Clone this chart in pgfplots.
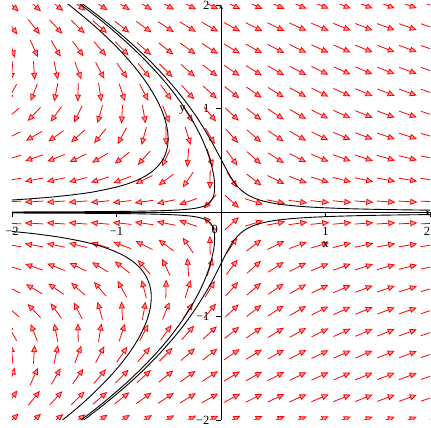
\documentclass[border=0pt]{standalone}
\usepackage{fontspec}
\setmainfont{Liberation Serif}
\usepackage{pgfplots}
\usepackage{pgfplotstable}
\pgfplotsset{compat=1.18}
\usetikzlibrary{arrows.meta}

% direction field of x' = x + y^2, y' = -y on a 20 x 20 grid
% columns: grid point (x,y) and the raw direction (u,v)
\pgfplotstableread{
x y u v
-2.000 2.000 2.000 -2.000
-1.789 2.000 2.211 -2.000
-1.579 2.000 2.421 -2.000
-1.368 2.000 2.632 -2.000
-1.158 2.000 2.842 -2.000
-0.947 2.000 3.053 -2.000
-0.737 2.000 3.263 -2.000
-0.526 2.000 3.474 -2.000
-0.316 2.000 3.684 -2.000
-0.105 2.000 3.895 -2.000
0.105 2.000 4.105 -2.000
0.316 2.000 4.316 -2.000
0.526 2.000 4.526 -2.000
0.737 2.000 4.737 -2.000
0.947 2.000 4.947 -2.000
1.158 2.000 5.158 -2.000
1.368 2.000 5.368 -2.000
1.579 2.000 5.579 -2.000
1.789 2.000 5.789 -2.000
2.000 2.000 6.000 -2.000
-2.000 1.789 1.201 -1.789
-1.789 1.789 1.412 -1.789
-1.579 1.789 1.622 -1.789
-1.368 1.789 1.833 -1.789
-1.158 1.789 2.043 -1.789
-0.947 1.789 2.254 -1.789
-0.737 1.789 2.464 -1.789
-0.526 1.789 2.675 -1.789
-0.316 1.789 2.885 -1.789
-0.105 1.789 3.096 -1.789
0.105 1.789 3.306 -1.789
0.316 1.789 3.517 -1.789
0.526 1.789 3.727 -1.789
0.737 1.789 3.938 -1.789
0.947 1.789 4.148 -1.789
1.158 1.789 4.359 -1.789
1.368 1.789 4.569 -1.789
1.579 1.789 4.780 -1.789
1.789 1.789 4.990 -1.789
2.000 1.789 5.201 -1.789
-2.000 1.579 0.493 -1.579
-1.789 1.579 0.704 -1.579
-1.579 1.579 0.914 -1.579
-1.368 1.579 1.125 -1.579
-1.158 1.579 1.335 -1.579
-0.947 1.579 1.546 -1.579
-0.737 1.579 1.756 -1.579
-0.526 1.579 1.967 -1.579
-0.316 1.579 2.177 -1.579
-0.105 1.579 2.388 -1.579
0.105 1.579 2.598 -1.579
0.316 1.579 2.809 -1.579
0.526 1.579 3.019 -1.579
0.737 1.579 3.230 -1.579
0.947 1.579 3.440 -1.579
1.158 1.579 3.651 -1.579
1.368 1.579 3.861 -1.579
1.579 1.579 4.072 -1.579
1.789 1.579 4.282 -1.579
2.000 1.579 4.493 -1.579
-2.000 1.368 -0.129 -1.368
-1.789 1.368 0.082 -1.368
-1.579 1.368 0.292 -1.368
-1.368 1.368 0.503 -1.368
-1.158 1.368 0.713 -1.368
-0.947 1.368 0.924 -1.368
-0.737 1.368 1.134 -1.368
-0.526 1.368 1.345 -1.368
-0.316 1.368 1.555 -1.368
-0.105 1.368 1.766 -1.368
0.105 1.368 1.976 -1.368
0.316 1.368 2.187 -1.368
0.526 1.368 2.397 -1.368
0.737 1.368 2.608 -1.368
0.947 1.368 2.818 -1.368
1.158 1.368 3.029 -1.368
1.368 1.368 3.239 -1.368
1.579 1.368 3.450 -1.368
1.789 1.368 3.660 -1.368
2.000 1.368 3.871 -1.368
-2.000 1.158 -0.659 -1.158
-1.789 1.158 -0.448 -1.158
-1.579 1.158 -0.238 -1.158
-1.368 1.158 -0.027 -1.158
-1.158 1.158 0.183 -1.158
-0.947 1.158 0.394 -1.158
-0.737 1.158 0.604 -1.158
-0.526 1.158 0.815 -1.158
-0.316 1.158 1.025 -1.158
-0.105 1.158 1.236 -1.158
0.105 1.158 1.446 -1.158
0.316 1.158 1.657 -1.158
0.526 1.158 1.867 -1.158
0.737 1.158 2.078 -1.158
0.947 1.158 2.288 -1.158
1.158 1.158 2.499 -1.158
1.368 1.158 2.709 -1.158
1.579 1.158 2.920 -1.158
1.789 1.158 3.130 -1.158
2.000 1.158 3.341 -1.158
-2.000 0.947 -1.103 -0.947
-1.789 0.947 -0.892 -0.947
-1.579 0.947 -0.682 -0.947
-1.368 0.947 -0.471 -0.947
-1.158 0.947 -0.261 -0.947
-0.947 0.947 -0.050 -0.947
-0.737 0.947 0.160 -0.947
-0.526 0.947 0.371 -0.947
-0.316 0.947 0.581 -0.947
-0.105 0.947 0.792 -0.947
0.105 0.947 1.002 -0.947
0.316 0.947 1.213 -0.947
0.526 0.947 1.423 -0.947
0.737 0.947 1.634 -0.947
0.947 0.947 1.844 -0.947
1.158 0.947 2.055 -0.947
1.368 0.947 2.265 -0.947
1.579 0.947 2.476 -0.947
1.789 0.947 2.686 -0.947
2.000 0.947 2.897 -0.947
-2.000 0.737 -1.457 -0.737
-1.789 0.737 -1.246 -0.737
-1.579 0.737 -1.036 -0.737
-1.368 0.737 -0.825 -0.737
-1.158 0.737 -0.615 -0.737
-0.947 0.737 -0.404 -0.737
-0.737 0.737 -0.194 -0.737
-0.526 0.737 0.017 -0.737
-0.316 0.737 0.227 -0.737
-0.105 0.737 0.438 -0.737
0.105 0.737 0.648 -0.737
0.316 0.737 0.859 -0.737
0.526 0.737 1.069 -0.737
0.737 0.737 1.280 -0.737
0.947 0.737 1.490 -0.737
1.158 0.737 1.701 -0.737
1.368 0.737 1.911 -0.737
1.579 0.737 2.122 -0.737
1.789 0.737 2.332 -0.737
2.000 0.737 2.543 -0.737
-2.000 0.526 -1.723 -0.526
-1.789 0.526 -1.512 -0.526
-1.579 0.526 -1.302 -0.526
-1.368 0.526 -1.091 -0.526
-1.158 0.526 -0.881 -0.526
-0.947 0.526 -0.670 -0.526
-0.737 0.526 -0.460 -0.526
-0.526 0.526 -0.249 -0.526
-0.316 0.526 -0.039 -0.526
-0.105 0.526 0.172 -0.526
0.105 0.526 0.382 -0.526
0.316 0.526 0.593 -0.526
0.526 0.526 0.803 -0.526
0.737 0.526 1.014 -0.526
0.947 0.526 1.224 -0.526
1.158 0.526 1.435 -0.526
1.368 0.526 1.645 -0.526
1.579 0.526 1.856 -0.526
1.789 0.526 2.066 -0.526
2.000 0.526 2.277 -0.526
-2.000 0.316 -1.900 -0.316
-1.789 0.316 -1.689 -0.316
-1.579 0.316 -1.479 -0.316
-1.368 0.316 -1.268 -0.316
-1.158 0.316 -1.058 -0.316
-0.947 0.316 -0.847 -0.316
-0.737 0.316 -0.637 -0.316
-0.526 0.316 -0.426 -0.316
-0.316 0.316 -0.216 -0.316
-0.105 0.316 -0.005 -0.316
0.105 0.316 0.205 -0.316
0.316 0.316 0.416 -0.316
0.526 0.316 0.626 -0.316
0.737 0.316 0.837 -0.316
0.947 0.316 1.047 -0.316
1.158 0.316 1.258 -0.316
1.368 0.316 1.468 -0.316
1.579 0.316 1.679 -0.316
1.789 0.316 1.889 -0.316
2.000 0.316 2.100 -0.316
-2.000 0.105 -1.989 -0.105
-1.789 0.105 -1.778 -0.105
-1.579 0.105 -1.568 -0.105
-1.368 0.105 -1.357 -0.105
-1.158 0.105 -1.147 -0.105
-0.947 0.105 -0.936 -0.105
-0.737 0.105 -0.726 -0.105
-0.526 0.105 -0.515 -0.105
-0.316 0.105 -0.305 -0.105
-0.105 0.105 -0.094 -0.105
0.105 0.105 0.116 -0.105
0.316 0.105 0.327 -0.105
0.526 0.105 0.537 -0.105
0.737 0.105 0.748 -0.105
0.947 0.105 0.958 -0.105
1.158 0.105 1.169 -0.105
1.368 0.105 1.379 -0.105
1.579 0.105 1.590 -0.105
1.789 0.105 1.800 -0.105
2.000 0.105 2.011 -0.105
-2.000 -0.105 -1.989 0.105
-1.789 -0.105 -1.778 0.105
-1.579 -0.105 -1.568 0.105
-1.368 -0.105 -1.357 0.105
-1.158 -0.105 -1.147 0.105
-0.947 -0.105 -0.936 0.105
-0.737 -0.105 -0.726 0.105
-0.526 -0.105 -0.515 0.105
-0.316 -0.105 -0.305 0.105
-0.105 -0.105 -0.094 0.105
0.105 -0.105 0.116 0.105
0.316 -0.105 0.327 0.105
0.526 -0.105 0.537 0.105
0.737 -0.105 0.748 0.105
0.947 -0.105 0.958 0.105
1.158 -0.105 1.169 0.105
1.368 -0.105 1.379 0.105
1.579 -0.105 1.590 0.105
1.789 -0.105 1.800 0.105
2.000 -0.105 2.011 0.105
-2.000 -0.316 -1.900 0.316
-1.789 -0.316 -1.689 0.316
-1.579 -0.316 -1.479 0.316
-1.368 -0.316 -1.268 0.316
-1.158 -0.316 -1.058 0.316
-0.947 -0.316 -0.847 0.316
-0.737 -0.316 -0.637 0.316
-0.526 -0.316 -0.426 0.316
-0.316 -0.316 -0.216 0.316
-0.105 -0.316 -0.005 0.316
0.105 -0.316 0.205 0.316
0.316 -0.316 0.416 0.316
0.526 -0.316 0.626 0.316
0.737 -0.316 0.837 0.316
0.947 -0.316 1.047 0.316
1.158 -0.316 1.258 0.316
1.368 -0.316 1.468 0.316
1.579 -0.316 1.679 0.316
1.789 -0.316 1.889 0.316
2.000 -0.316 2.100 0.316
-2.000 -0.526 -1.723 0.526
-1.789 -0.526 -1.512 0.526
-1.579 -0.526 -1.302 0.526
-1.368 -0.526 -1.091 0.526
-1.158 -0.526 -0.881 0.526
-0.947 -0.526 -0.670 0.526
-0.737 -0.526 -0.460 0.526
-0.526 -0.526 -0.249 0.526
-0.316 -0.526 -0.039 0.526
-0.105 -0.526 0.172 0.526
0.105 -0.526 0.382 0.526
0.316 -0.526 0.593 0.526
0.526 -0.526 0.803 0.526
0.737 -0.526 1.014 0.526
0.947 -0.526 1.224 0.526
1.158 -0.526 1.435 0.526
1.368 -0.526 1.645 0.526
1.579 -0.526 1.856 0.526
1.789 -0.526 2.066 0.526
2.000 -0.526 2.277 0.526
-2.000 -0.737 -1.457 0.737
-1.789 -0.737 -1.246 0.737
-1.579 -0.737 -1.036 0.737
-1.368 -0.737 -0.825 0.737
-1.158 -0.737 -0.615 0.737
-0.947 -0.737 -0.404 0.737
-0.737 -0.737 -0.194 0.737
-0.526 -0.737 0.017 0.737
-0.316 -0.737 0.227 0.737
-0.105 -0.737 0.438 0.737
0.105 -0.737 0.648 0.737
0.316 -0.737 0.859 0.737
0.526 -0.737 1.069 0.737
0.737 -0.737 1.280 0.737
0.947 -0.737 1.490 0.737
1.158 -0.737 1.701 0.737
1.368 -0.737 1.911 0.737
1.579 -0.737 2.122 0.737
1.789 -0.737 2.332 0.737
2.000 -0.737 2.543 0.737
-2.000 -0.947 -1.103 0.947
-1.789 -0.947 -0.892 0.947
-1.579 -0.947 -0.682 0.947
-1.368 -0.947 -0.471 0.947
-1.158 -0.947 -0.261 0.947
-0.947 -0.947 -0.050 0.947
-0.737 -0.947 0.160 0.947
-0.526 -0.947 0.371 0.947
-0.316 -0.947 0.581 0.947
-0.105 -0.947 0.792 0.947
0.105 -0.947 1.002 0.947
0.316 -0.947 1.213 0.947
0.526 -0.947 1.423 0.947
0.737 -0.947 1.634 0.947
0.947 -0.947 1.844 0.947
1.158 -0.947 2.055 0.947
1.368 -0.947 2.265 0.947
1.579 -0.947 2.476 0.947
1.789 -0.947 2.686 0.947
2.000 -0.947 2.897 0.947
-2.000 -1.158 -0.659 1.158
-1.789 -1.158 -0.448 1.158
-1.579 -1.158 -0.238 1.158
-1.368 -1.158 -0.027 1.158
-1.158 -1.158 0.183 1.158
-0.947 -1.158 0.394 1.158
-0.737 -1.158 0.604 1.158
-0.526 -1.158 0.815 1.158
-0.316 -1.158 1.025 1.158
-0.105 -1.158 1.236 1.158
0.105 -1.158 1.446 1.158
0.316 -1.158 1.657 1.158
0.526 -1.158 1.867 1.158
0.737 -1.158 2.078 1.158
0.947 -1.158 2.288 1.158
1.158 -1.158 2.499 1.158
1.368 -1.158 2.709 1.158
1.579 -1.158 2.920 1.158
1.789 -1.158 3.130 1.158
2.000 -1.158 3.341 1.158
-2.000 -1.368 -0.129 1.368
-1.789 -1.368 0.082 1.368
-1.579 -1.368 0.292 1.368
-1.368 -1.368 0.503 1.368
-1.158 -1.368 0.713 1.368
-0.947 -1.368 0.924 1.368
-0.737 -1.368 1.134 1.368
-0.526 -1.368 1.345 1.368
-0.316 -1.368 1.555 1.368
-0.105 -1.368 1.766 1.368
0.105 -1.368 1.976 1.368
0.316 -1.368 2.187 1.368
0.526 -1.368 2.397 1.368
0.737 -1.368 2.608 1.368
0.947 -1.368 2.818 1.368
1.158 -1.368 3.029 1.368
1.368 -1.368 3.239 1.368
1.579 -1.368 3.450 1.368
1.789 -1.368 3.660 1.368
2.000 -1.368 3.871 1.368
-2.000 -1.579 0.493 1.579
-1.789 -1.579 0.704 1.579
-1.579 -1.579 0.914 1.579
-1.368 -1.579 1.125 1.579
-1.158 -1.579 1.335 1.579
-0.947 -1.579 1.546 1.579
-0.737 -1.579 1.756 1.579
-0.526 -1.579 1.967 1.579
-0.316 -1.579 2.177 1.579
-0.105 -1.579 2.388 1.579
0.105 -1.579 2.598 1.579
0.316 -1.579 2.809 1.579
0.526 -1.579 3.019 1.579
0.737 -1.579 3.230 1.579
0.947 -1.579 3.440 1.579
1.158 -1.579 3.651 1.579
1.368 -1.579 3.861 1.579
1.579 -1.579 4.072 1.579
1.789 -1.579 4.282 1.579
2.000 -1.579 4.493 1.579
-2.000 -1.789 1.201 1.789
-1.789 -1.789 1.412 1.789
-1.579 -1.789 1.622 1.789
-1.368 -1.789 1.833 1.789
-1.158 -1.789 2.043 1.789
-0.947 -1.789 2.254 1.789
-0.737 -1.789 2.464 1.789
-0.526 -1.789 2.675 1.789
-0.316 -1.789 2.885 1.789
-0.105 -1.789 3.096 1.789
0.105 -1.789 3.306 1.789
0.316 -1.789 3.517 1.789
0.526 -1.789 3.727 1.789
0.737 -1.789 3.938 1.789
0.947 -1.789 4.148 1.789
1.158 -1.789 4.359 1.789
1.368 -1.789 4.569 1.789
1.579 -1.789 4.780 1.789
1.789 -1.789 4.990 1.789
2.000 -1.789 5.201 1.789
-2.000 -2.000 2.000 2.000
-1.789 -2.000 2.211 2.000
-1.579 -2.000 2.421 2.000
-1.368 -2.000 2.632 2.000
-1.158 -2.000 2.842 2.000
-0.947 -2.000 3.053 2.000
-0.737 -2.000 3.263 2.000
-0.526 -2.000 3.474 2.000
-0.316 -2.000 3.684 2.000
-0.105 -2.000 3.895 2.000
0.105 -2.000 4.105 2.000
0.316 -2.000 4.316 2.000
0.526 -2.000 4.526 2.000
0.737 -2.000 4.737 2.000
0.947 -2.000 4.947 2.000
1.158 -2.000 5.158 2.000
1.368 -2.000 5.368 2.000
1.579 -2.000 5.579 2.000
1.789 -2.000 5.789 2.000
2.000 -2.000 6.000 2.000
}\dirfield

\begin{document}
\begin{tikzpicture}
\begin{axis}[
  scale only axis,
  width=418pt, height=415pt,
  xmin=-2, xmax=2, ymin=-2, ymax=2,
  axis lines=middle,
  axis line style={black, line width=0.8pt},
  xtick={-2,-1,1,2}, xticklabels={−2,−1,1,\llap{2}},
  ytick={-2,-1,1,2}, yticklabels={−2,−1,1,2},
  minor tick num=1,
  major tick length=5pt, minor tick length=3pt,
  tick align=center,
  tick style={black, line width=0.6pt},
  xtick style={yshift=-2.5pt},
  ytick style={xshift=-2.5pt},
  /pgf/number format/assume math mode=true,
  ticklabel style={font=\fontsize{12.5}{14}\selectfont, inner sep=0pt},
  xticklabel style={anchor=north, yshift=-12pt},
  yticklabel style={anchor=east, xshift=-9pt},
]
% normalised arrows, centred on their grid points
\addplot[red, line width=0.8pt,
  -{Triangle[length=7pt, width=6pt, fill=red!40]},
  quiver={
    u={0.18*\thisrow{u}/veclen(\thisrow{u},\thisrow{v})},
    v={0.18*\thisrow{v}/veclen(\thisrow{u},\thisrow{v})},
  }]
  table[
    x expr={\thisrow{x}-0.09*\thisrow{u}/veclen(\thisrow{u},\thisrow{v})},
    y expr={\thisrow{y}-0.09*\thisrow{v}/veclen(\thisrow{u},\thisrow{v})},
  ] {\dirfield};

% solution curves
\addplot[black, line width=0.9pt, smooth] coordinates {
(-2.091,0.115) (-1.852,0.13) (-1.608,0.15) (-1.382,0.175) (-1.213,0.2)
(-0.981,0.25) (-0.830,0.3) (-0.727,0.35) (-0.653,0.4) (-0.601,0.45)
(-0.563,0.5) (-0.537,0.55) (-0.520,0.6) (-0.510,0.65) (-0.506,0.7)
(-0.508,0.75) (-0.513,0.8) (-0.537,0.9) (-0.573,1.0) (-0.622,1.1)
(-0.680,1.2) (-0.748,1.3) (-0.825,1.4) (-0.910,1.5) (-1.003,1.6)
(-1.105,1.7) (-1.213,1.8) (-1.330,1.9) (-1.453,2.0) (-1.584,2.1)};
\addplot[black, line width=0.9pt, smooth] coordinates {
(-2.145,-0.17) (-1.923,-0.19) (-1.743,-0.21) (-1.532,-0.24) (-1.322,-0.28)
(-1.168,-0.32) (-1.027,-0.37) (-0.923,-0.42) (-0.833,-0.48) (-0.761,-0.55)
(-0.714,-0.62) (-0.682,-0.7) (-0.669,-0.77) (-0.667,-0.82) (-0.671,-0.88)
(-0.683,-0.95) (-0.713,-1.05) (-0.757,-1.15) (-0.811,-1.25) (-0.876,-1.35)
(-0.951,-1.45) (-1.035,-1.55) (-1.128,-1.65) (-1.228,-1.75) (-1.337,-1.85)
(-1.454,-1.95) (-1.578,-2.05) (-1.643,-2.1)};
\addplot[black, line width=0.9pt, smooth] coordinates {
(-2.0,0.005) (-1.667,0.006) (-1.25,0.008) (-1.0,0.01) (-0.8,0.0125)
(-0.625,0.016) (-0.5,0.02) (-0.4,0.025) (-0.303,0.033) (-0.251,0.04)
(-0.201,0.05) (-0.155,0.065) (-0.127,0.08) (-0.103,0.1) (-0.083,0.13)
(-0.068,0.17) (-0.062,0.22) (-0.062,0.28) (-0.069,0.35) (-0.090,0.45)
(-0.119,0.55) (-0.156,0.65) (-0.201,0.75) (-0.281,0.9) (-0.377,1.05)
(-0.488,1.2) (-0.615,1.35) (-0.757,1.5) (-0.914,1.65) (-1.086,1.8)
(-1.273,1.95) (-1.475,2.1)};
\addplot[black, line width=0.9pt, smooth] coordinates {
(2.143,0.021) (2.0,0.0225) (1.8,0.025) (1.5,0.03) (1.286,0.035)
(1.124,0.04) (0.899,0.05) (0.749,0.06) (0.598,0.075) (0.497,0.09)
(0.405,0.11) (0.341,0.13) (0.273,0.16) (0.212,0.2) (0.159,0.25)
(0.120,0.3) (0.076,0.37) (0.033,0.45) (-0.019,0.55) (-0.072,0.65)
(-0.128,0.75) (-0.220,0.9) (-0.325,1.05) (-0.443,1.2) (-0.574,1.35)
(-0.720,1.5) (-0.880,1.65) (-1.055,1.8) (-1.244,1.95) (-1.449,2.1)};
\addplot[black, line width=0.9pt, smooth] coordinates {
(-2.0,-0.005) (-1.667,-0.006) (-1.25,-0.008) (-1.0,-0.01) (-0.8,-0.0125)
(-0.625,-0.016) (-0.5,-0.02) (-0.4,-0.025) (-0.303,-0.033) (-0.251,-0.04)
(-0.201,-0.05) (-0.155,-0.065) (-0.127,-0.08) (-0.103,-0.1) (-0.083,-0.13)
(-0.068,-0.17) (-0.062,-0.22) (-0.062,-0.28) (-0.069,-0.35) (-0.090,-0.45)
(-0.119,-0.55) (-0.156,-0.65) (-0.201,-0.75) (-0.281,-0.9) (-0.377,-1.05)
(-0.488,-1.2) (-0.615,-1.35) (-0.757,-1.5) (-0.914,-1.65) (-1.086,-1.8)
(-1.273,-1.95) (-1.475,-2.1)};
\addplot[black, line width=0.9pt, smooth] coordinates {
(2.105,-0.019) (2.0,-0.02) (1.739,-0.023) (1.481,-0.027) (1.25,-0.032)
(0.999,-0.04) (0.799,-0.05) (0.665,-0.06) (0.531,-0.075) (0.442,-0.09)
(0.360,-0.11) (0.302,-0.13) (0.241,-0.16) (0.187,-0.2) (0.139,-0.25)
(0.103,-0.3) (0.063,-0.37) (0.021,-0.45) (-0.028,-0.55) (-0.079,-0.65)
(-0.134,-0.75) (-0.226,-0.9) (-0.329,-1.05) (-0.447,-1.2) (-0.578,-1.35)
(-0.723,-1.5) (-0.883,-1.65) (-1.058,-1.8) (-1.247,-1.95) (-1.451,-2.1)};

\node[font=\fontsize{12.5}{14}\selectfont, inner sep=0pt, anchor=north east]
  at (axis cs:0,0) [xshift=-3pt, yshift=-12pt] {0};
\node[font=\fontsize{12.5}{14}\selectfont] at (axis cs:1,-0.31) {x};
\node[font=\fontsize{12.5}{14}\selectfont] at (axis cs:-0.368,0.99) {y};
\coordinate (bl) at (axis cs:-2,-2);
\coordinate (tr) at (axis cs:2,2);
\end{axis}
\pgfresetboundingbox
\path ([xshift=-12pt, yshift=-8pt]bl) rectangle ([xshift=1pt, yshift=5pt]tr);
\end{tikzpicture}
\end{document}
